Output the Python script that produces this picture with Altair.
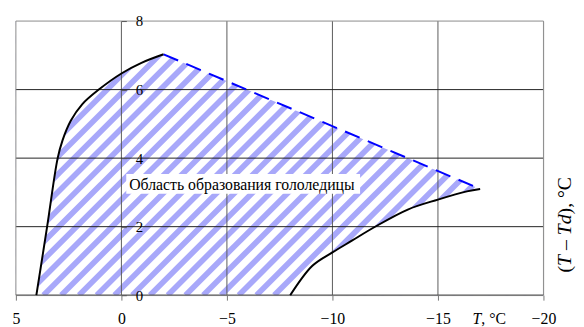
import altair as alt
import pandas as pd

# ---------------- data ----------------
x_ticks = [5, 0, -5, -10, -15, -20]
y_ticks = [0, 2, 4, 6, 8]

left_T = [4.03, 3.52, 3.02, 2.79, 2.40, 1.86, 1.07, 0.0, -0.95, -2.0]
left_D = [0.0, 2.0, 4.0, 4.52, 5.09, 5.57, 6.0, 6.47, 6.78, 7.03]

right_T = [-8.0, -9.05, -10.0, -10.92, -12.0, -13.57, -15.0, -16.37, -17.0]
right_D = [0.0, 0.86, 1.25, 1.59, 1.99, 2.50, 2.79, 3.03, 3.10]

dash_T = [-2.0, -17.0]
dash_D = [7.03, 3.10]

region_label = "Область образования гололедицы"
label_T = [-0.37]
label_D = [3.07]
box_T = [-0.23, -11.31]
box_D = [2.96, 3.54]

# ---------------- layout ----------------
W, H = 535, 278
X_MIN, X_MAX, Y_MAX = -20, 5, 8
ppu_x = W / (X_MAX - X_MIN)
ppu_y = H / Y_MAX

# hatch stripes ("/" at 45 deg in screen space), drawn over the whole plot and
# then masked outside the region by white areas
period_px = 18.0
dT = period_px / ppu_x
run_T = H / ppu_x          # T-shift of a 45 deg line over the full height
stripe_a, stripe_b = [], []
t0 = X_MAX + run_T + dT
while t0 > X_MIN - dT:
    stripe_a.append(t0)
    stripe_b.append(t0 - run_T)
    t0 -= dT
stripe_df = pd.DataFrame({"a": stripe_a, "b": stripe_b, "y0": 0.0, "y1": float(Y_MAX)})

hatch_T = left_T + dash_T[1:]
hatch_D = left_D + dash_D[1:]
upper_mask = pd.DataFrame({"T": [X_MAX] + hatch_T + [X_MIN],
                           "D": [0.0] + hatch_D + [hatch_D[-1]],
                           "top": float(Y_MAX)})
lower_mask = pd.DataFrame({"T": right_T + [X_MIN], "D": right_D + [float(Y_MAX)]})

left_df = pd.DataFrame({"T": left_T, "D": left_D})
left_df["i"] = range(len(left_df))
right_df = pd.DataFrame({"T": right_T, "D": right_D})
right_df["i"] = range(len(right_df))
dash_df = pd.DataFrame({"T": dash_T, "D": dash_D})

inner_x = [v for v in x_ticks if v not in (X_MIN, X_MAX)]
inner_y = [v for v in y_ticks if v not in (0, Y_MAX)]
xg_df = pd.DataFrame({"T": inner_x})
yg_df = pd.DataFrame({"D": inner_y})
xb_df = pd.DataFrame({"T": [X_MIN, X_MAX]})
yb_top = pd.DataFrame({"D": [Y_MAX]})
yb_bot = pd.DataFrame({"D": [0]})
box_df = pd.DataFrame({"T": [box_T[0]], "T2": [box_T[1]], "D": [box_D[0]], "D2": [box_D[1]]})
lab_df = pd.DataFrame({"T": label_T, "D": label_D, "txt": [region_label]})

FONT = "Liberation Serif"

x_axis = alt.Axis(values=x_ticks, title=None, grid=False, domain=False,
                  ticks=True, tickSize=5, tickColor="#777777",
                  labelFont=FONT, labelFontSize=16, labelColor="black", labelPadding=24,
                  labelBaseline="alphabetic", labelFlush=False, labelOverlap=False, zindex=1)
y_axis = alt.Axis(values=y_ticks, orient="right", offset=-(W - (X_MAX - 0) * ppu_x), title=None,
                  grid=False, domain=False, ticks=True, tickSize=5, tickColor="#555555",
                  labelFont=FONT, labelFontSize=15, labelColor="black", labelPadding=9,
                  labelBaseline="middle", labelFlush=False, labelOverlap=False, zindex=1)

xs = alt.Scale(domain=[X_MIN, X_MAX], reverse=True, nice=False, zero=False)
ys = alt.Scale(domain=[0, Y_MAX], nice=False)

def X(f="T"):
    return alt.X(f"{f}:Q", scale=xs, axis=x_axis, title=None)

def Y(f="D"):
    return alt.Y(f"{f}:Q", scale=ys, axis=y_axis, title=None)

stripes = alt.Chart(stripe_df).mark_rule(
    color="#a8a8fa", strokeWidth=0.45 * period_px / 2 ** 0.5, strokeCap="butt", clip=True
).encode(x=X("a"), x2="b:Q", y=Y("y0"), y2="y1:Q")
mask_up = alt.Chart(upper_mask).mark_area(fill="white", interpolate="linear").encode(
    x=X(), y=Y(), y2="top:Q")
mask_low = alt.Chart(lower_mask).mark_area(fill="white", interpolate="linear").encode(
    x=X(), y=Y())
vgrid = alt.Chart(xg_df).mark_rule(color="#5a5a5a", strokeWidth=1).encode(x=X())
hgrid = alt.Chart(yg_df).mark_rule(color="#222222", strokeWidth=1).encode(y=Y())
vborder = alt.Chart(xb_df).mark_rule(color="#8a8a8a", strokeWidth=1).encode(x=X())
tborder = alt.Chart(yb_top).mark_rule(color="#8a8a8a", strokeWidth=1).encode(y=Y())
bborder = alt.Chart(yb_bot).mark_rule(color="#555555", strokeWidth=1.2).encode(y=Y())
box = alt.Chart(box_df).mark_rect(fill="white").encode(x=X(), x2="T2:Q", y=Y(), y2="D2:Q")
left_line = alt.Chart(left_df).mark_line(color="black", strokeWidth=2, interpolate="catmull-rom").encode(
    x=X(), y=Y(), order=alt.Order("i:Q"))
right_line = alt.Chart(right_df).mark_line(color="black", strokeWidth=2, interpolate="catmull-rom").encode(
    x=X(), y=Y(), order=alt.Order("i:Q"))
dash_line = alt.Chart(dash_df).mark_line(color="#0000ff", strokeWidth=2, strokeDash=[16, 9]).encode(
    x=X(), y=Y())
label = alt.Chart(lab_df).mark_text(font=FONT, fontSize=16, align="left", baseline="alphabetic",
                                   color="black").encode(x=X(), y=Y(), text="txt:N")

one = pd.DataFrame({"a": [0]})
t_title = alt.Chart(one).mark_text(
    font=FONT, fontSize=16, fontStyle="italic", align="left", baseline="alphabetic", color="black"
).encode(x=alt.value(463), y=alt.value(307), text=alt.value("T"))
t_title2 = alt.Chart(one).mark_text(
    font=FONT, fontSize=16, align="left", baseline="alphabetic", color="black"
).encode(x=alt.value(472), y=alt.value(307), text=alt.value(", °C"))

fs = 20
pieces = [("(", "normal", 0.333, 0.0), ("T", "italic", 0.556, 0.0), ("–", "normal", 1.0, 0.25),
          ("Td", "italic", 1.056, 0.0), ("), °C", "normal", 1.9, 0.0)]
rot_layers = []
ypos = 255.0
for txt, style, w, lead in pieces:
    rot_layers.append(
        alt.Chart(one).mark_text(
            font=FONT, fontSize=fs, fontStyle=style, align="left", baseline="middle",
            angle=270, color="black"
        ).encode(x=alt.value(557), y=alt.value(ypos - lead * fs), text=alt.value(txt))
    )
    ypos -= w * fs

chart = alt.layer(
    stripes, mask_up, mask_low, vgrid, hgrid, vborder, tborder, bborder, box,
    left_line, right_line, dash_line, label, t_title, t_title2, *rot_layers
).properties(
    width=W, height=H,
    autosize=alt.AutoSizeParams(type="none"),
    padding={"left": 8, "top": 11, "right": 33, "bottom": 30},
).configure_view(strokeWidth=0).configure(background="white")

chart.save("out.html", embed_options={"renderer": "svg", "actions": False})
